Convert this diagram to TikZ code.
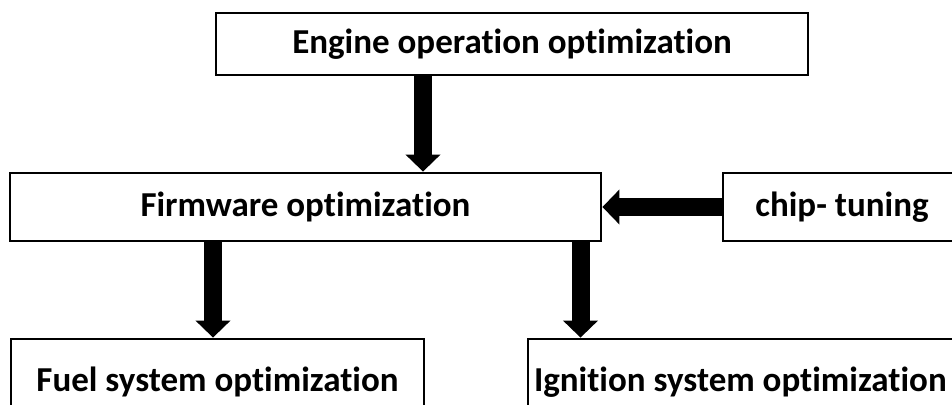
\documentclass[tikz,border=0pt]{standalone}
\usepackage{fontspec}
\setmainfont[Ligatures=NoCommon]{Carlito}
\usetikzlibrary{arrows.meta}
\begin{document}
\begin{tikzpicture}[x=1pt,y=-1pt,
  box/.style={draw, line width=2.8pt, inner sep=0pt, font=\bfseries\fontsize{35}{42}\selectfont},
  arr/.style={line width=18pt, -{Triangle[width=34pt,length=17pt]}}]
\useasboundingbox (0,0) rectangle (952,404);
\clip (0,0) rectangle (952,404);
\node[box, minimum width=592pt, minimum height=62pt] (top) at (512,44) {Engine operation optimization};
\node[box, minimum width=591pt, minimum height=68pt] (fw) at (305.5,207) {Firmware optimization};
\node[box, minimum width=238pt, minimum height=68pt] (chip) at (842,207) {chip- tuning};
\node[box, minimum width=413pt, minimum height=86pt] (fuel) at (217.5,382) {Fuel system optimization};
\node[box, minimum width=452pt, minimum height=86pt] (ign) at (754,382) {\makebox[440pt][l]{Ignition system optimization}};
\draw[arr] ([xshift=-89pt]top.south) -- ([xshift=-89pt]top.south |- fw.north);
\draw[arr] (chip.west) -- (fw.east);
\draw[arr] ([xshift=-92.5pt]fw.south) -- ([xshift=-92.5pt]fw.south |- fuel.north);
\draw[arr] ([xshift=275pt]fw.south) -- ([xshift=275pt]fw.south |- ign.north);
\end{tikzpicture}
\end{document}
